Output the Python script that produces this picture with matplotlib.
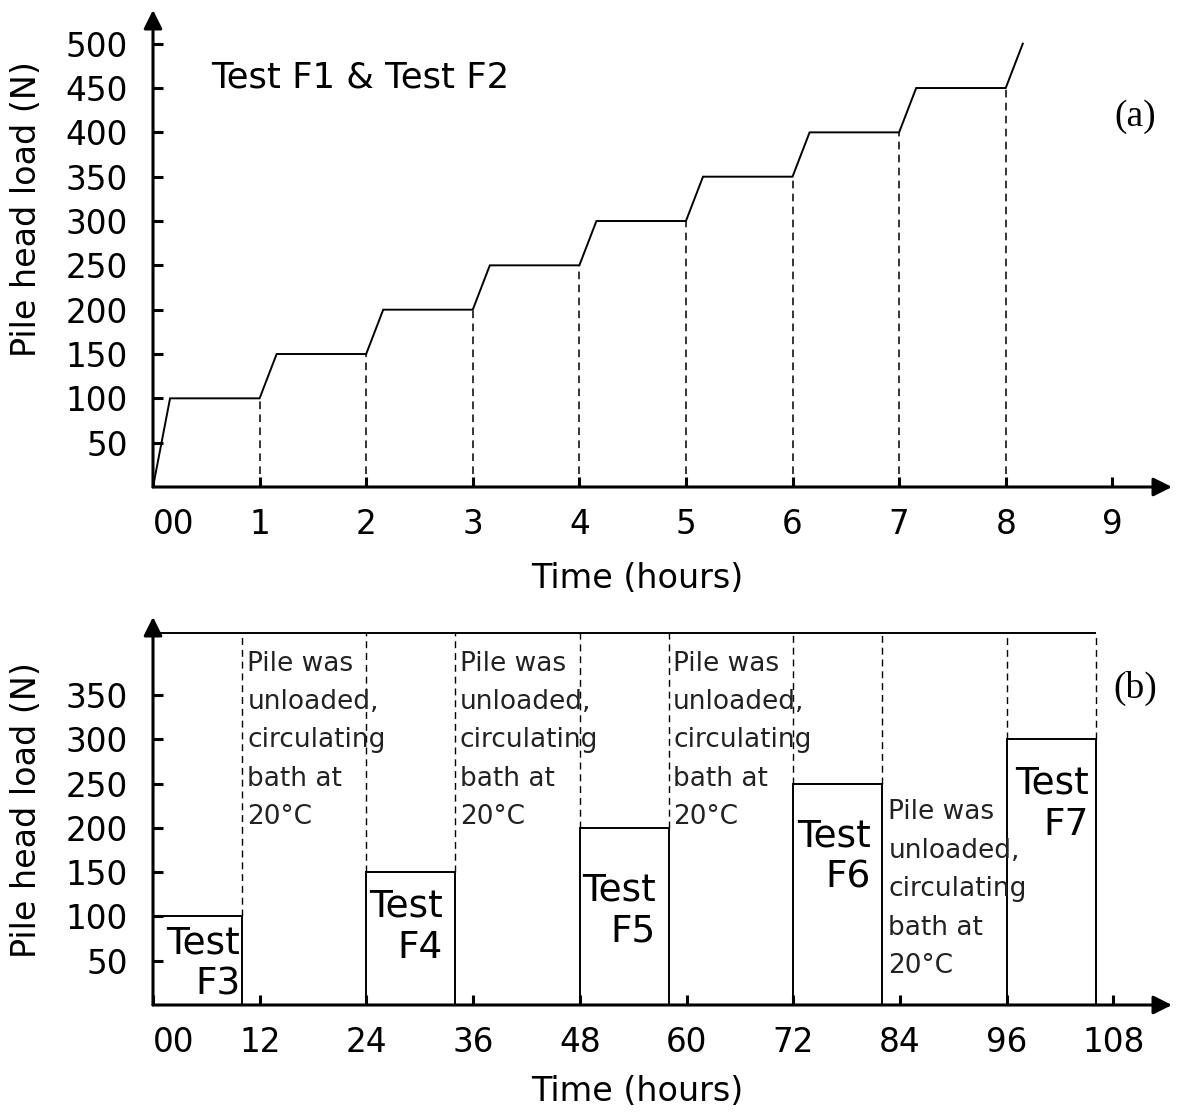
import matplotlib
matplotlib.use("Agg")
import matplotlib.pyplot as plt

# ---------------- data ----------------
# Panel (a): staged loading, Test F1 & Test F2
time_a = [0, 0.16, 1, 1.16, 2, 2.16, 3, 3.16, 4, 4.16, 5, 5.16, 6, 6.16, 7, 7.16, 8, 8.16]
load_a = [0, 100, 100, 150, 150, 200, 200, 250, 250, 300, 300, 350, 350, 400, 400, 450, 450, 500]
step_times_a = [1, 2, 3, 4, 5, 6, 7, 8]
step_loads_a = [100, 150, 200, 250, 300, 350, 400, 450]
xticks_a = [0, 1, 2, 3, 4, 5, 6, 7, 8, 9]
xticklabels_a = ["00", "1", "2", "3", "4", "5", "6", "7", "8", "9"]
yticks_a = [50, 100, 150, 200, 250, 300, 350, 400, 450, 500]

# Panel (b): tests F3..F7
test_names = ["Test\nF3", "Test\nF4", "Test\nF5", "Test\nF6", "Test\nF7"]
test_start = [0, 24, 48, 72, 96]
test_end = [10, 34, 58, 82, 106]
test_load = [100, 150, 200, 250, 300]
top_level_b = 420
xticks_b = [0, 12, 24, 36, 48, 60, 72, 84, 96, 108]
xticklabels_b = ["00", "12", "24", "36", "48", "60", "72", "84", "96", "108"]
yticks_b = [50, 100, 150, 200, 250, 300, 350]
unload_note = "Pile was\nunloaded,\ncirculating\nbath at\n20°C"

# ---------------- layout / style ----------------
W, H = 1182, 1113
fig = plt.figure(figsize=(W / 100, H / 100), dpi=100)
plt.rcParams["font.family"] = ["DejaVu Sans"]

TICK_FS = 23.5
LABEL_FS = 24
dash = (0, (5, 3.5))


def setup_axes(ax, xlim, ylim, xticks, xlabels, yticks):
    ax.set_xlim(*xlim)
    ax.set_ylim(*ylim)
    for s in ax.spines.values():
        s.set_visible(False)
    ax.annotate("", xy=(1, 0), xytext=(0, 0), xycoords="axes fraction",
                arrowprops=dict(arrowstyle="-|>", lw=2.2, color="black",
                                mutation_scale=28, shrinkA=0, shrinkB=0))
    ax.annotate("", xy=(0, 1), xytext=(0, 0), xycoords="axes fraction",
                arrowprops=dict(arrowstyle="-|>", lw=2.2, color="black",
                                mutation_scale=28, shrinkA=0, shrinkB=0))
    ax.set_xticks(xticks)
    ax.set_xticklabels(xlabels)
    ax.set_yticks(yticks)
    ax.set_yticklabels([str(v) for v in yticks])
    ax.tick_params(axis="both", direction="in", length=7, width=2.2,
                   labelsize=TICK_FS, color="black")
    ax.tick_params(axis="x", pad=15)
    ax.tick_params(axis="y", pad=18)
    ax.get_xticklabels()[0].set_horizontalalignment("left")
    ax.patch.set_alpha(0)


# ---- Panel (a) ----
ax1 = fig.add_axes([153 / W, (H - 487) / H, 1019 / W, 477 / H])
setup_axes(ax1, (0, 9.56), (0, 538), xticks_a, xticklabels_a, yticks_a)
ax1.plot(time_a, load_a, color="black", lw=1.4, solid_joinstyle="miter")
ax1.vlines(step_times_a, 0, step_loads_a, colors="black", lw=1.1, linestyles=dash)
ax1.text(0.55, 462, "Test F1 & Test F2", fontsize=25.5, ha="left", va="center")
ax1.text(9.21, 418, "(a)", fontsize=27, ha="center", va="center",
         family="Liberation Serif")
ax1.set_xlabel("Time (hours)", fontsize=LABEL_FS)
ax1.xaxis.set_label_coords(0.475, -0.158)
ax1.xaxis.label.set_va("top")
ax1.set_ylabel("Pile head load (N)", fontsize=LABEL_FS)
ax1.yaxis.set_label_coords(-0.108, 0.583)
ax1.yaxis.label.set_va("bottom")

# ---- Panel (b) ----
ax2 = fig.add_axes([153 / W, (H - 1005) / H, 1019 / W, 388 / H])
setup_axes(ax2, (0, 114.6), (0, 438), xticks_b, xticklabels_b, yticks_b)
ax2.hlines(top_level_b, 0, test_end[-1], colors="black", lw=1.4)
for xs, xe, ld in zip(test_start, test_end, test_load):
    ax2.plot([xs, xs, xe, xe], [0, ld, ld, 0], color="black", lw=1.4,
             solid_joinstyle="miter")
    edges = [xe] if xs == 0 else [xs, xe]
    ax2.vlines(edges, ld, top_level_b, colors="black", lw=1.0, linestyles=dash)

# test labels (right edge, top of text)
label_x = [9.8, 32.6, 56.5, 80.7, 105.2]
label_y = [90, 132, 150, 211, 270]
for name, lx, ly in zip(test_names, label_x, label_y):
    ax2.text(lx, ly, name, fontsize=27, ha="right", va="top",
             multialignment="right", linespacing=1.2)

note_x = [10.6, 34.5, 58.5, 82.7]
note_y = [400, 400, 400, 232]
for nx, ny in zip(note_x, note_y):
    ax2.text(nx, ny, unload_note, fontsize=19, ha="left", va="top",
             linespacing=1.62, color="#222222")

ax2.text(110.5, 357, "(b)", fontsize=27, ha="center", va="center",
         family="Liberation Serif")
ax2.set_xlabel("Time (hours)", fontsize=LABEL_FS)
ax2.xaxis.set_label_coords(0.475, -0.18)
ax2.xaxis.label.set_va("top")
ax2.set_ylabel("Pile head load (N)", fontsize=LABEL_FS)
ax2.yaxis.set_label_coords(-0.108, 0.503)
ax2.yaxis.label.set_va("bottom")

fig.savefig("out.png", dpi=100)
